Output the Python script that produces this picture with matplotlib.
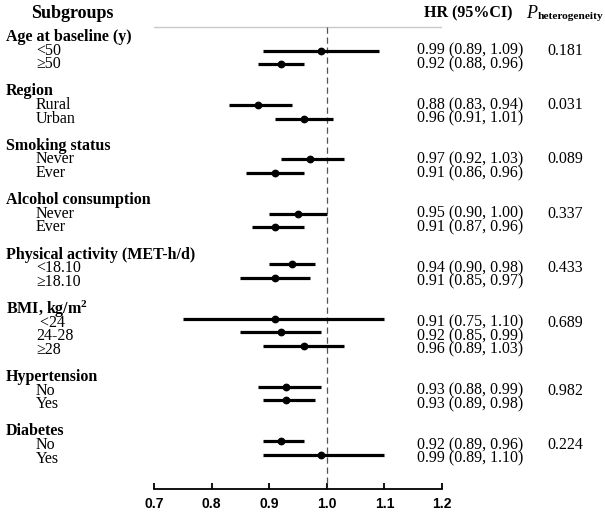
import numpy as np
import matplotlib as mpl
mpl.use('Agg')
import matplotlib.pyplot as plt

serif = ['Liberation Serif', 'DejaVu Serif']
narrow = ['Liberation Sans Narrow', 'Liberation Sans', 'DejaVu Sans']
plt.rcParams['font.family'] = serif
plt.rcParams['mathtext.fontset'] = 'custom'
plt.rcParams['mathtext.rm'] = 'Liberation Serif'
plt.rcParams['mathtext.it'] = 'Liberation Serif:italic'
plt.rcParams['mathtext.bf'] = 'Liberation Serif:bold'

# data
groups = ['Age at baseline (y)', 'Region', 'Smoking status', 'Alcohol consumption',
          'Physical activity (MET-h/d)', r'BMI, kg/m$^{\mathbf{2}}$', 'Hypertension', 'Diabetes']
levels = [['<50', '≥50'], ['Rural', 'Urban'], ['Never', 'Ever'], ['Never', 'Ever'],
          ['<18.10', '≥18.10'], [' <24', '24-28', '≥28'], ['No', 'Yes'], ['No', 'Yes']]
hr = [[0.99, 0.92], [0.88, 0.96], [0.97, 0.91], [0.95, 0.91],
      [0.94, 0.91], [0.91, 0.92, 0.96], [0.93, 0.93], [0.92, 0.99]]
lo = [[0.89, 0.88], [0.83, 0.91], [0.92, 0.86], [0.90, 0.87],
      [0.90, 0.85], [0.75, 0.85, 0.89], [0.88, 0.89], [0.89, 0.89]]
hi = [[1.09, 0.96], [0.94, 1.01], [1.03, 0.96], [1.00, 0.96],
      [0.98, 0.97], [1.10, 0.99, 1.03], [0.99, 0.98], [0.96, 1.10]]
p_het = ['0.181', '0.031', '0.089', '0.337', '0.433', '0.689', '0.982', '0.224']
xticks = [0.7, 0.8, 0.9, 1.0, 1.1, 1.2]

W, H = 605, 512
line_px = 13.6     # one text line in pixels
top_px = 37        # first header row
fig = plt.figure(figsize=(W / 100, H / 100), dpi=100)

ylim = ((H - top_px) / line_px, -top_px / line_px)
bg = fig.add_axes([0, 0, 1, 1])
bg.set_xlim(0, W)
bg.set_ylim(*ylim)
bg.axis('off')

ax = fig.add_axes([154 / W, 0, (442 - 154) / W, 1])
ax.set_xlim(0.7, 1.2)
ax.set_ylim(*ylim)
ax.patch.set_alpha(0)

fs = 11.5
row = 0
for g in range(len(groups)):
    bg.text(6, row, groups[g], fontsize=fs, fontweight='bold', va='center', ha='left')
    bg.text(547, row + 1, p_het[g], fontsize=fs, va='center', ha='left')
    shift = 0 if g < 4 else 0.3
    for k in range(len(levels[g])):
        r = row + 1 + k
        bg.text(36, r, levels[g][k], fontsize=fs, va='center', ha='left')
        bg.text(417, r, '%.2f (%.2f, %.2f)' % (hr[g][k], lo[g][k], hi[g][k]),
                fontsize=fs, va='center', ha='left')
        ax.plot([lo[g][k], hi[g][k]], [r - shift, r - shift], color='black', lw=2.3,
                solid_capstyle='butt', zorder=3)
        ax.plot(hr[g][k], r - shift, 'o', color='black', ms=4.6, zorder=4)
    row += len(levels[g]) + 2

# headers
head_y = (13 - top_px) / line_px
bg.text(72, head_y, 'Subgroups', fontsize=13, fontweight='bold', va='center', ha='center')
bg.text(424, head_y, 'HR (95%CI)', fontsize=11.5, fontweight='bold', va='center', ha='left')
bg.text(526, head_y, 'P', fontsize=13, fontstyle='italic', va='center', ha='left')
bg.text(537.5, head_y + 0.25, 'heterogeneity', fontsize=8.2, fontweight='bold', va='center', ha='left')

grey_y = (27 - top_px) / line_px
axis_y = (489 - top_px) / line_px
ax.axhline(grey_y, color='#c8c8c8', lw=1)
ax.plot([1.0, 1.0], [grey_y, axis_y], color='#555555', lw=0.9, ls=(0, (5, 3)), zorder=2)

for s in ['top', 'right', 'left']:
    ax.spines[s].set_visible(False)
ax.spines['bottom'].set_position(('data', axis_y))
ax.spines['bottom'].set_linewidth(1.3)
ax.set_yticks([])
ax.set_xticks(xticks)
ax.set_xticklabels(['%.1f' % t for t in xticks], fontfamily=narrow, fontweight='bold', fontsize=10)
ax.tick_params(axis='x', direction='in', length=4, width=1.3, pad=6)

fig.savefig('out.png', dpi=100)
